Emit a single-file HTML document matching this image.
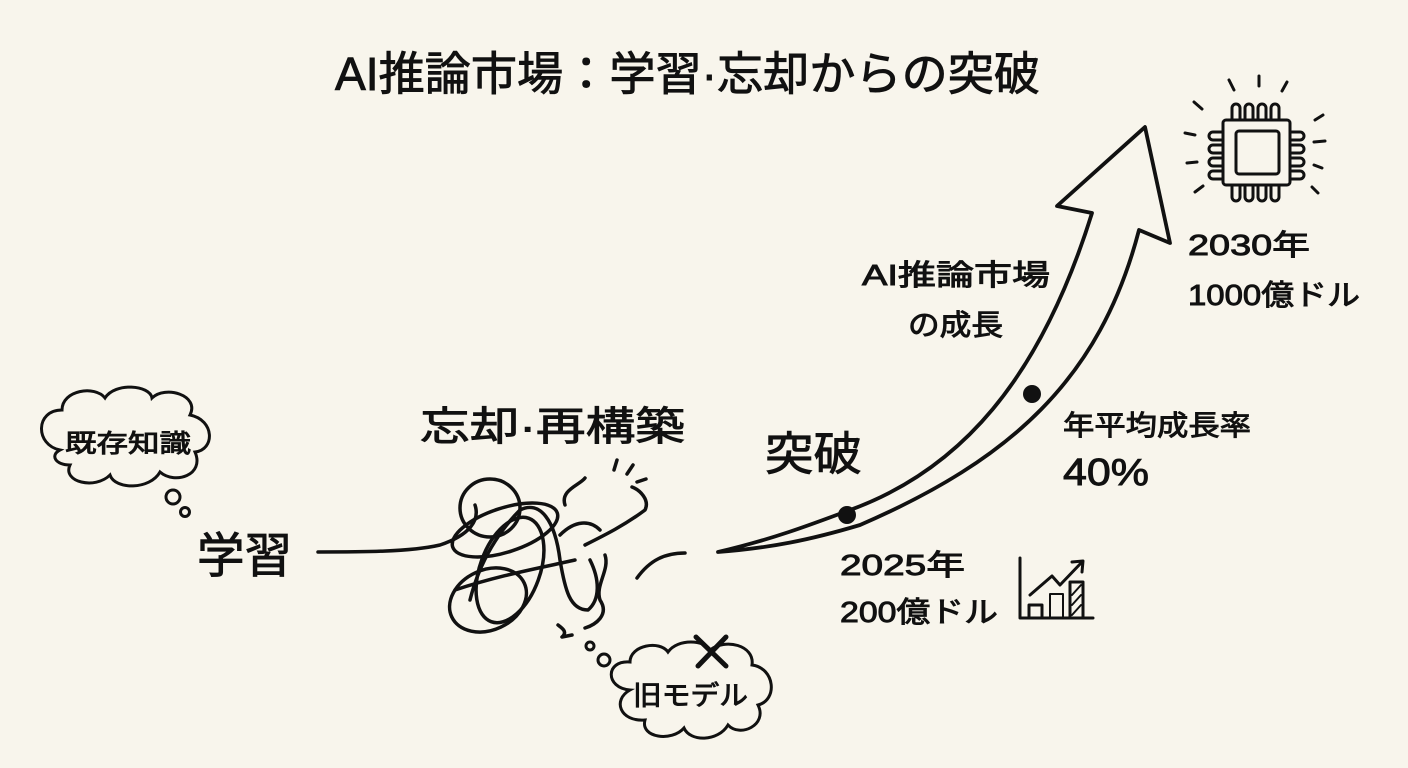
<!DOCTYPE html>
<html><head><meta charset="utf-8"><style>
html,body{margin:0;padding:0;background:#f8f5ec}
svg{display:block}
text{font-family:"Liberation Sans","Noto Sans CJK JP",sans-serif;fill:#111;stroke:#111;stroke-width:0.9px}
</style></head><body>
<svg width="1408" height="768" viewBox="0 0 1408 768" xmlns="http://www.w3.org/2000/svg">
<rect width="1408" height="768" fill="#f8f5ec"/>
<text x="335" y="90" font-size="46" textLength="705" lengthAdjust="spacingAndGlyphs">AI推論市場：学習·忘却からの突破</text>

<g fill="none" stroke="#111" stroke-width="3" stroke-linecap="round">
<path d="M60,450 C35,445 35,410 62,410 C62,390 95,385 105,398 C115,382 150,385 152,398 C165,385 200,395 190,415 C215,420 215,450 195,452 C205,475 175,485 160,472 C150,490 115,490 110,475 C95,490 62,482 70,465 C55,465 50,455 60,450 Z"/>
<circle cx="173" cy="497" r="7"/>
<circle cx="185" cy="512" r="4.5"/>
<path d="M630,690 C605,688 605,660 630,662 C630,645 660,640 668,652 C678,638 705,640 710,650 C725,638 755,645 752,665 C775,668 778,700 758,705 C768,725 740,738 728,725 C718,742 690,742 684,728 C672,742 640,738 645,720 C620,722 612,700 630,690 Z"/>
<circle cx="604" cy="660" r="6"/>
<circle cx="590" cy="646" r="4"/>
<path d="M696,637 L726,666 M726,637 L698,666" stroke-width="5"/>
</g>
<text x="65" y="452" font-size="25" textLength="126" lengthAdjust="spacingAndGlyphs">既存知識</text>
<text x="633" y="705" font-size="27" textLength="115" lengthAdjust="spacingAndGlyphs">旧モデル</text>

<g fill="none" stroke="#111" stroke-width="3.5" stroke-linecap="round" stroke-linejoin="round">
<path d="M318,552 C360,552 410,552 440,545 C470,535 480,520 475,505"/>
<ellipse cx="490" cy="508" rx="30" ry="29"/>
<ellipse cx="505" cy="530" rx="55" ry="22" transform="rotate(-18 505 530)"/>
<ellipse cx="488" cy="600" rx="40" ry="30" transform="rotate(-25 488 600)"/>
<ellipse cx="510" cy="570" rx="30" ry="55" transform="rotate(20 510 570)"/>
<path d="M470,600 C480,560 500,530 520,510 C540,500 555,520 560,560 C565,590 570,610 588,610 C600,600 600,580 590,560"/>
<path d="M455,590 C500,575 540,568 575,560"/>
<path d="M565,505 C560,490 580,485 585,478 M560,535 C575,520 590,520 600,530"/>
<path d="M585,545 C605,535 625,525 645,510 C650,500 640,490 632,487"/>
<path d="M605,555 C610,570 595,585 600,600 C610,615 595,625 585,628"/>
<path d="M558,625 C562,628 568,632 562,637 L572,635"/>
<path d="M637,578 C650,560 665,553 685,553"/>
<path d="M614,470 L617,460 M627,474 L633,465 M637,482 L646,479"/>
</g>
<text x="197" y="572" font-size="48" textLength="95" lengthAdjust="spacingAndGlyphs">学習</text>
<text x="420" y="440" font-size="40" textLength="265" lengthAdjust="spacingAndGlyphs">忘却·再構築</text>
<text x="765" y="470" font-size="46" textLength="97" lengthAdjust="spacingAndGlyphs">突破</text>

<g fill="none" stroke="#111" stroke-width="3.8" stroke-linecap="round" stroke-linejoin="round">
<path d="M718,552 C770,540 810,525 850,510 C960,470 1040,380 1092,213 L1057,206 L1145,127 L1170,243 L1139,230 C1100,380 1010,460 860,525 C810,540 770,548 718,552 Z"/>
</g>
<circle cx="847" cy="515" r="9" fill="#111"/>
<circle cx="1032" cy="394" r="9" fill="#111"/>
<text x="862" y="285" font-size="29" textLength="188" lengthAdjust="spacingAndGlyphs">AI推論市場</text>
<text x="908" y="335" font-size="29" textLength="95" lengthAdjust="spacingAndGlyphs">の成長</text>
<text x="1063" y="435" font-size="28" textLength="188" lengthAdjust="spacingAndGlyphs">年平均成長率</text>
<text x="1063" y="485" font-size="38" textLength="86" lengthAdjust="spacingAndGlyphs">40%</text>
<text x="840" y="575" font-size="29" textLength="125" lengthAdjust="spacingAndGlyphs">2025年</text>
<text x="840" y="622" font-size="29" textLength="158" lengthAdjust="spacingAndGlyphs">200億ドル</text>
<text x="1188" y="255" font-size="29" textLength="122" lengthAdjust="spacingAndGlyphs">2030年</text>
<text x="1188" y="305" font-size="29" textLength="172" lengthAdjust="spacingAndGlyphs">1000億ドル</text>

<g fill="none" stroke="#111" stroke-width="3" stroke-linecap="round" stroke-linejoin="round">
<path d="M1020,558 L1020,618 L1093,618"/>
<rect x="1029" y="605" width="13" height="13"/>
<rect x="1050" y="594" width="13" height="24" stroke-width="2"/>
<rect x="1070" y="582" width="13" height="36"/>
<path d="M1072,595 L1081,585 M1072,605 L1081,595 M1072,615 L1081,605" stroke-width="2"/>
<path d="M1030,595 L1052,576 L1060,585 L1082,562 M1072,562 L1083,561 L1082,572"/>
</g>

<g fill="none" stroke="#111" stroke-width="3" stroke-linecap="round" stroke-linejoin="round">
<rect x="1223" y="120" width="67" height="65" rx="3"/>
<rect x="1236" y="131" width="43" height="43" rx="3"/>
<path d="M1232,120 v-12 a4,4 0 0 1 8,0 v12 M1245,120 v-12 a4,4 0 0 1 8,0 v12 M1258,120 v-12 a4,4 0 0 1 8,0 v12 M1271,120 v-12 a4,4 0 0 1 8,0 v12"/>
<path d="M1232,185 v12 a4,4 0 0 0 8,0 v-12 M1245,185 v12 a4,4 0 0 0 8,0 v-12 M1258,185 v12 a4,4 0 0 0 8,0 v-12 M1271,185 v12 a4,4 0 0 0 8,0 v-12"/>
<path d="M1223,132 h-10 a4,4 0 0 0 0,8 h10 M1223,145 h-10 a4,4 0 0 0 0,8 h10 M1223,158 h-10 a4,4 0 0 0 0,8 h10 M1223,171 h-10 a4,4 0 0 0 0,8 h10"/>
<path d="M1290,132 h10 a4,4 0 0 1 0,8 h-10 M1290,145 h10 a4,4 0 0 1 0,8 h-10 M1290,158 h10 a4,4 0 0 1 0,8 h-10 M1290,171 h10 a4,4 0 0 1 0,8 h-10"/>
<path d="M1229,80 L1234,90 M1259,76 L1259,86 M1287,82 L1282,91 M1194,102 L1202,109 M1185,133 L1195,135 M1187,163 L1197,162 M1195,192 L1203,186 M1323,115 L1315,120 M1325,141 L1314,142 M1322,168 L1314,165 M1318,193 L1312,187"/>
</g>
</svg>
</body></html>
